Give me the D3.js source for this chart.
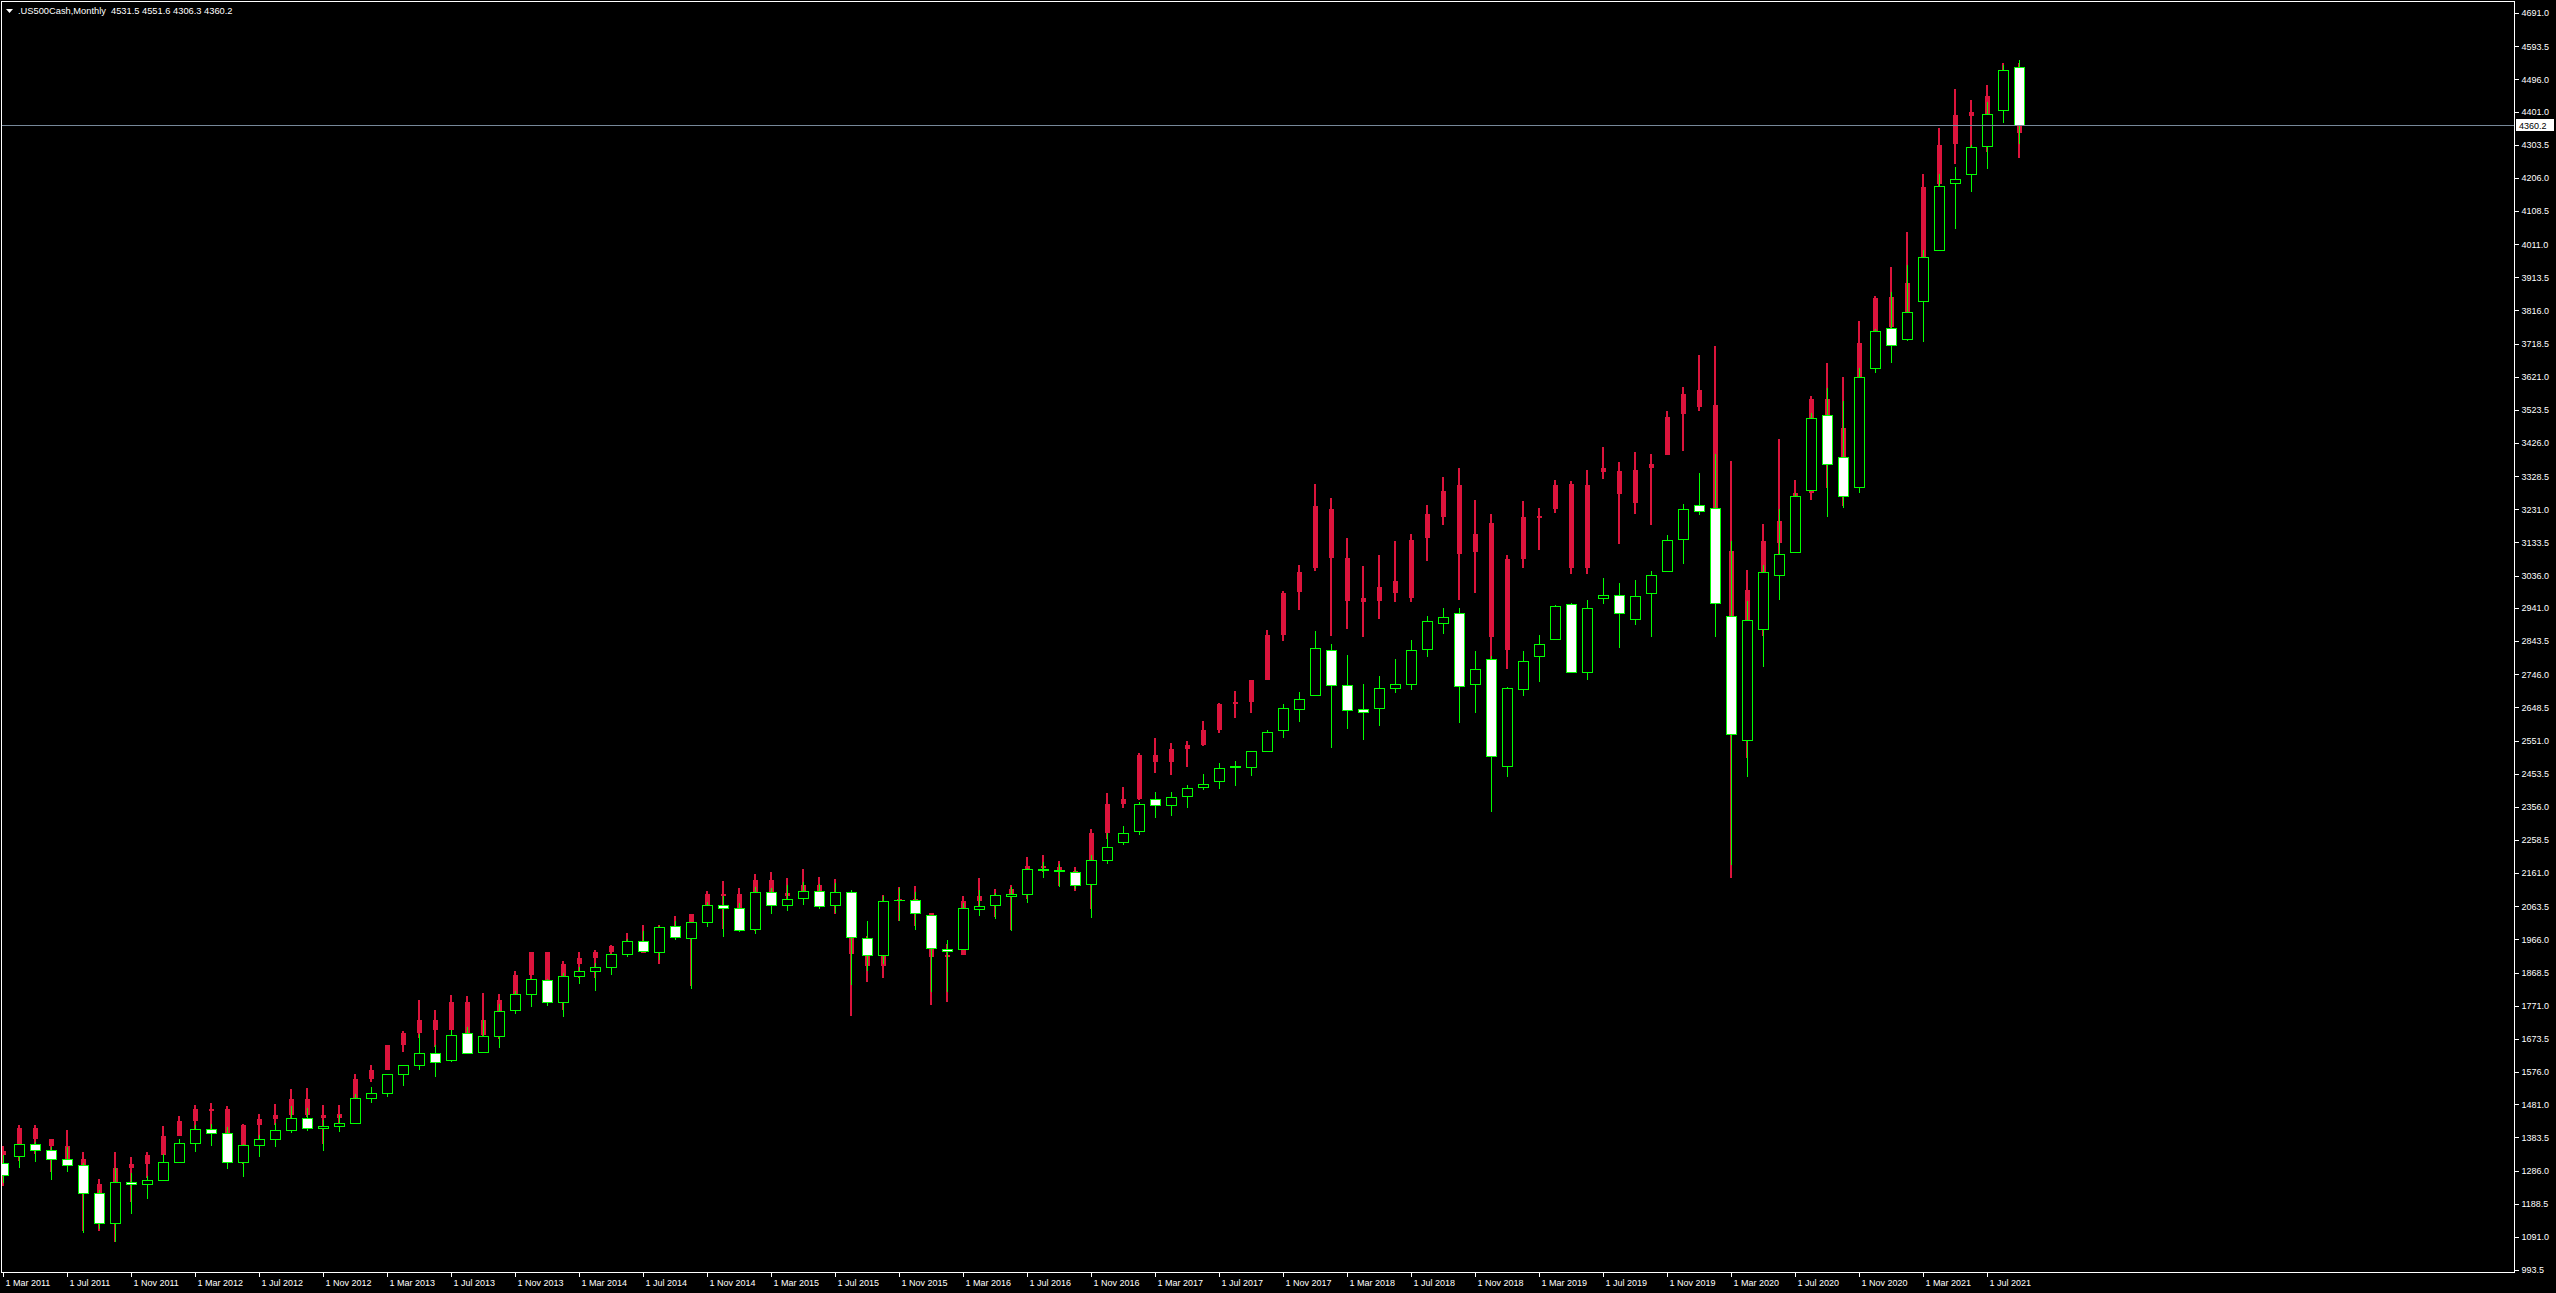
<!DOCTYPE html>
<html><head><meta charset="utf-8">
<script src="https://cdn.jsdelivr.net/npm/d3@7"></script>
<style>html,body{margin:0;padding:0;background:#000;overflow:hidden}</style>
</head><body><svg id="c" width="2556" height="1293"></svg>
<script>
// ---------- DATA ----------
const symbolTitle = ".US500Cash,Monthly";
const categories = d3.timeMonth.range(new Date(2011, 2, 1), new Date(2021, 9, 1)).map(d3.timeFormat("1 %b %Y"));

// main series (.US500Cash monthly OHLC), Mar 2011 .. Sep 2021
const spxOpen = [
 1307,1329.5,1365.2,1345.2,1320.6,1302,1219.1,1131.2,1251.0,1246.9,
 1258.9,1312.5,1365.9,1408.5,1397.9,1309.9,1362.3,1379.3,1406.5,1440.9,1412.2,1416.2,
 1426.2,1498.1,1514.7,1569.2,1597.6,1631.7,1609.8,1689.4,1635.9,1682.4,1758.7,1806.6,
 1845.9,1782.7,1857.7,1873.9,1884.4,1923.9,1962.3,1929.8,2004.1,1971.4,2018.2,2065.8,
 2058.9,1996.7,2105.2,2067.6,2087.4,2108.6,2067.0,2104.5,1970.1,1919.7,2080.8,2082.9,
 2038.2,1937.1,1937.1,2056.6,2067.2,2093.9,2099.3,2173.2,2171.3,2164.3,2128.7,2200.2,
 2251.6,2285.6,2380.1,2362.3,2388.5,2415.6,2431.4,2477.1,2474.4,2521.2,2583.2,2645.1,
 2683.7,2816.5,2715.2,2643.0,2646.0,2705.0,2716.0,2821.2,2897.0,2926.3,2717.6,2790.5,
 2477.0,2702.3,2798.2,2848.6,2952.3,2751.5,2971.4,2980.3,2909.0,2983.7,3050.7,3143.9,
 3244.7,3235.7,2917.0,2552.0,2880.0,3038.8,3105.9,3288.3,3507.4,3385.9,3296.2,3645.9,
 3764.6,3731.2,3842.5,3992.8,4192.0,4216.5,4300.7,4406.9,4531.5];
const spxHigh = [
 1332.3,1364.6,1370.6,1356.5,1356.5,1307.4,1229.3,1292.7,1277.6,1269.4,
 1333.5,1378.0,1419.2,1422.4,1415.3,1363.5,1392.0,1426.7,1474.5,1470.9,1434.3,1448.0,
 1509.9,1530.9,1570.3,1597.6,1687.2,1654.2,1698.8,1709.7,1729.9,1775.2,1813.6,1849.4,
 1850.8,1867.9,1883.9,1897.3,1924.0,1968.2,1991.4,2005.0,2019.3,2018.2,2075.8,2093.6,
 2072.4,2119.6,2117.5,2125.9,2134.7,2129.9,2132.8,2112.7,2020.9,2094.3,2116.5,2104.3,
 2038.2,1963.0,2072.2,2111.1,2103.5,2120.6,2177.1,2193.8,2187.9,2169.6,2214.1,2277.5,
 2301.0,2371.5,2401.0,2398.2,2418.7,2453.8,2484.0,2490.9,2519.4,2583.0,2657.7,2695.0,
 2872.9,2836.0,2801.9,2717.5,2742.2,2791.5,2848.0,2916.5,2940.9,2939.9,2815.2,2800.2,
 2709.0,2813.5,2860.3,2949.5,2954.1,2964.2,3028.0,3013.6,3022.0,3050.1,3154.3,3247.9,
 3337.8,3393.5,3136.7,2960.0,3068.7,3233.1,3280.0,3514.8,3588.1,3549.9,3646.0,3760.2,
 3870.9,3950.4,3994.4,4218.8,4238.0,4302.4,4430.0,4537.4,4551.6];
const spxLow = [
 1249.1,1294.7,1311.8,1258.1,1282.9,1101.5,1114.2,1074.8,1158.7,1202.4,
 1258.9,1312.5,1340.0,1357.4,1291.0,1266.7,1325.4,1354.7,1396.6,1403.3,1343.4,1398.1,
 1426.2,1485.0,1501.5,1536.0,1581.3,1560.3,1604.6,1627.5,1633.4,1646.5,1746.2,1767.9,
 1770.5,1737.9,1834.4,1814.4,1859.8,1915.0,1930.7,1904.8,1964.0,1820.7,2001.0,1972.6,
 1988.1,1980.9,2039.7,2048.4,2067.9,2056.3,2044.0,1831.0,1871.9,1893.7,2019.4,1993.3,
 1812.3,1810.1,1937.1,2033.8,2025.9,1991.7,2074.0,2147.6,2119.1,2114.7,2030.0,2187.4,
 2245.1,2271.7,2322.3,2329.0,2352.7,2405.7,2407.7,2417.4,2446.6,2520.4,2557.5,2605.5,
 2682.4,2529.0,2585.9,2553.8,2594.6,2692.0,2699.0,2796.3,2864.1,2603.5,2631.1,2340.0,
 2444.0,2681.8,2722.3,2848.6,2750.5,2728.8,2952.2,2822.1,2891.9,2855.9,3050.7,3070.3,
 3214.6,2855.8,2185.0,2445.0,2766.6,2965.7,3101.2,3284.5,3209.5,3233.9,3279.7,3633.4,
 3662.7,3725.6,3723.3,3992.8,4056.9,4164.4,4233.1,4367.7,4306.3];
const spxClose = [
 1273,1363.6,1345.2,1320.6,1302,1219.0,1131.4,1253.3,1247.0,1257.6,
 1312.4,1365.7,1408.5,1397.9,1310.3,1362.2,1379.3,1406.6,1440.7,1412.2,1416.2,1426.2,
 1498.1,1514.7,1569.2,1597.6,1630.7,1606.3,1685.7,1633.0,1681.6,1756.5,1805.8,1848.4,
 1782.6,1859.5,1872.3,1883.9,1923.6,1960.2,1930.7,2003.4,1972.3,2018.1,2067.6,2058.9,
 1995.0,2104.5,2067.9,2085.5,2107.4,2063.1,2104.0,1972.2,1920.0,2079.4,2080.4,2043.9,
 1940.2,1932.2,2059.7,2065.3,2096.9,2098.9,2173.6,2170.9,2168.3,2126.2,2198.8,2238.8,
 2278.9,2363.6,2362.7,2384.2,2411.8,2423.4,2470.3,2471.7,2519.4,2575.3,2647.6,2673.6,
 2823.8,2713.8,2640.9,2634.0,2705.3,2716.0,2816.3,2901.5,2914.0,2711.7,2760.2,2506.9,
 2704.1,2784.5,2834.4,2945.8,2752.1,2941.8,2980.4,2926.5,2976.7,3037.6,3141.0,3230.8,
 3225.5,2954.2,2569.0,2906.0,3048.0,3100.3,3271.1,3500.3,3363.0,3270.0,3621.6,3756.1,
 3714.2,3811.2,3972.9,4181.2,4204.1,4297.5,4395.3,4522.7,4360.2];

// overlay series (red candles, US30 monthly OHLC drawn on its own scale)
const dowOpen = [
 12226,12321,12810,12570,12415,12144,11614,10913,11955,12046,
 12218,12633,12952,13212,13214,12393,12880,13009,13091,13437,13096,13026,
 13104,13861,14054,14579,14840,15116,14910,15500,14810,15130,15546,16086,
 16577,15699,16322,16458,16581,16717,16827,16563,17098,17043,17391,17828,
 17823,17165,18133,17776,17841,18011,17620,17690,16528,16285,17664,17720,
 17425,16466,16517,17685,17774,17787,17930,18432,18401,18308,18142,19124,
 19763,19864,20812,20663,20941,21009,21350,21891,21948,22423,23377,24305,
 24809,26083,25025,24076,24117,24542,24161,25462,25917,26598,25151,25779,
 23058,24999,25916,26075,26609,24819,26964,26897,26198,26963,27230,28109,
 28639,28319,25180,21227,23985,25342,25880,26419,28439,27816,26691,29696,
 30627,30055,31065,33055,33904,34584,34507,34950,35361];
const dowHigh = [
 12419,12876,12876,12570,12754,12285,11717,12284,12188,12288,
 12842,13055,13290,13338,13280,12899,13103,13330,13653,13662,13290,13311,
 13969,14150,14585,14888,15542,15340,15658,15634,15710,15680,16175,16588,
 16588,16398,16588,16631,16736,16978,17152,17153,17350,17395,17894,18103,
 17951,18244,18289,18175,18351,18199,18138,17785,16933,17799,17978,17997,
 17425,16752,17791,18168,17934,18016,18622,18668,18534,18400,19225,19988,
 20126,20851,21169,21071,21112,21535,21929,22179,22420,23485,24328,24876,
 26617,26307,25449,24858,25086,25403,25552,26168,26770,26952,26278,25980,
 25087,26242,26110,26696,26689,26908,27398,27091,27306,27248,28174,28701,
 29374,29568,27102,24765,25759,27581,26711,28502,29199,28903,30116,30637,
 31272,32009,33260,34257,35091,34849,35171,35631,35631];
const dowLow = [
 11555,12093,12241,11863,12071,10604,10597,10362,11231,11735,
 12218,12628,12792,12710,12376,12035,12492,12880,13002,13034,12471,12883,
 13104,13784,14054,14434,14740,14551,14910,14761,14777,14720,15489,15703,
 15699,15341,16015,16015,16334,16675,16563,16333,16945,15855,17291,17068,
 17136,17037,17580,17698,17790,17575,17399,15200,15942,16013,17238,17139,
 15451,15503,16517,17484,17331,17063,17713,18288,17993,17884,17500,19007,
 19678,19832,20412,20379,20553,20996,21279,21600,21710,22416,23242,23922,
 24741,23360,23509,23345,23718,24077,24075,24965,25734,24122,24268,21713,
 22639,24811,25208,25996,24681,24680,26712,25339,25978,25743,27230,27325,
 28170,24681,18170,20735,23361,24843,25523,26273,26537,26144,26691,29617,
 29857,29965,30547,32875,33474,33271,33742,34690,33613];
const dowClose = [
 12320,12811,12570,12414,12143,11614,10913,11955,12046,12218,
 12633,12952,13212,13214,12393,12880,13009,13091,13437,13096,13026,13104,
 13861,14054,14579,14840,15116,14910,15500,14810,15130,15546,16086,16577,
 15699,16322,16458,16581,16717,16827,16563,17098,17043,17391,17828,17823,
 17165,18133,17776,17841,18011,17620,17690,16528,16285,17664,17720,17425,
 16466,16517,17685,17774,17787,17930,18432,18401,18308,18142,19124,19763,
 19864,20812,20663,20941,21009,21350,21891,21948,22405,23377,24272,24719,
 26149,25029,24103,24163,24416,24271,25415,25965,26458,25116,25538,23327,
 24999,25916,25929,26593,24815,26600,26864,26403,26917,27046,28051,28538,
 28256,25409,21917,24346,25383,25813,26428,28430,27782,26502,29639,30606,
 29983,30932,32982,33875,34529,34503,34935,35361,34150];
// overlay value -> chart price units
const overlayDomain = [10000, 40000];
const overlayRange = [1026, 5142];

const priceTicks = [4691.0,4593.5,4496.0,4401.0,4303.5,4206.0,4108.5,4011.0,3913.5,3816.0,3718.5,3621.0,3523.5,3426.0,3328.5,3231.0,3133.5,3036.0,2941.0,2843.5,2746.0,2648.5,2551.0,2453.5,2356.0,2258.5,2161.0,2063.5,1966.0,1868.5,1771.0,1673.5,1576.0,1481.0,1383.5,1286.0,1188.5,1091.0,993.5];
const timeTicks = ["1 Mar 2011","1 Jul 2011","1 Nov 2011","1 Mar 2012","1 Jul 2012","1 Nov 2012","1 Mar 2013","1 Jul 2013","1 Nov 2013","1 Mar 2014","1 Jul 2014","1 Nov 2014","1 Mar 2015","1 Jul 2015","1 Nov 2015","1 Mar 2016","1 Jul 2016","1 Nov 2016","1 Mar 2017","1 Jul 2017","1 Nov 2017","1 Mar 2018","1 Jul 2018","1 Nov 2018","1 Mar 2019","1 Jul 2019","1 Nov 2019","1 Mar 2020","1 Jul 2020","1 Nov 2020","1 Mar 2021","1 Jul 2021"];
const bidPrice = 4360.2;

// ---------- DRAW ----------
const W = 2556, H = 1293;
const FONT = "'Liberation Sans', Arial, sans-serif";
const GREEN = "#00ff00", RED = "#dc143c";
const svg = d3.select("#c");
svg.append("rect").attr("width", W).attr("height", H).attr("fill", "#000");

const plotL = 2, plotT = 2, plotR = 2514, plotB = 1272;
const x = d3.scalePoint().domain(categories).range([3, 2019]);
const y = d3.scaleLinear().domain([993.5, 4691]).range([1270, 13]);
const ov = d3.scaleLinear().domain(overlayDomain).range(overlayRange);

svg.append("defs").append("clipPath").attr("id", "plotclip")
  .append("rect").attr("x", plotL).attr("y", plotT).attr("width", plotR - plotL).attr("height", plotB - plotT);

const plot = svg.append("g").attr("clip-path", "url(#plotclip)").attr("shape-rendering", "crispEdges");

const rows = categories.map((c, i) => ({
  c, o: spxOpen[i], h: spxHigh[i], l: spxLow[i], cl: spxClose[i],
  ro: ov(dowOpen[i]), rh: ov(dowHigh[i]), rl: ov(dowLow[i]), rc: ov(dowClose[i])
}));

// overlay red candles (behind)
const red = plot.append("g");
rows.forEach(d => {
  const cx = Math.round(x(d.c));
  const t = Math.round(y(d.rh)), b = Math.round(y(d.rl));
  red.append("rect").attr("x", cx - 1).attr("y", t).attr("width", 2).attr("height", Math.max(1, b - t)).attr("fill", RED);
  const bt = Math.round(y(Math.max(d.ro, d.rc))), bb = Math.round(y(Math.min(d.ro, d.rc)));
  red.append("rect").attr("x", cx - 2).attr("y", bt).attr("width", 5).attr("height", Math.max(2, bb - bt)).attr("fill", RED);
});

// main candles
const main = plot.append("g");
rows.forEach(d => {
  const cx = Math.round(x(d.c));
  const t = Math.round(y(d.h)), b = Math.round(y(d.l));
  main.append("rect").attr("x", cx).attr("y", t).attr("width", 1).attr("height", Math.max(1, b - t)).attr("fill", GREEN);
  const bt = Math.round(y(Math.max(d.o, d.cl))), bb = Math.round(y(Math.min(d.o, d.cl)));
  if (bb - bt < 1) {
    main.append("rect").attr("x", cx - 5).attr("y", bt).attr("width", 11).attr("height", 1).attr("fill", GREEN);
  } else {
    main.append("rect").attr("x", cx - 4.5).attr("y", bt + 0.5).attr("width", 10).attr("height", bb - bt)
      .attr("fill", d.cl > d.o ? "#000" : "#fff").attr("stroke", GREEN).attr("stroke-width", 1);
  }
});

// bid line
const by = Math.round(y(bidPrice)) + 0.5;
svg.append("line").attr("x1", plotL).attr("x2", plotR).attr("y1", by).attr("y2", by)
  .attr("stroke", "#778899").attr("stroke-width", 1).attr("shape-rendering", "crispEdges");

// frame
svg.append("rect").attr("x", 1.5).attr("y", 1.5).attr("width", 2513).attr("height", 1271)
  .attr("fill", "none").attr("stroke", "#fff").attr("stroke-width", 1).attr("shape-rendering", "crispEdges");

// price axis
const yAxis = svg.append("g").attr("transform", `translate(${plotR + 0.5},0)`)
  .call(d3.axisRight(y).tickValues(priceTicks).tickSize(4).tickPadding(3).tickFormat(d3.format(".1f")));
yAxis.select(".domain").remove();
yAxis.selectAll("line").attr("stroke", "#fff").attr("shape-rendering", "crispEdges");
yAxis.selectAll("text").attr("fill", "#fff").style("font-family", FONT).style("font-size", "9px");

// bid label
svg.append("rect").attr("x", plotR + 2).attr("y", by - 6.5).attr("width", 38).attr("height", 12).attr("fill", "#fff");
svg.append("text").attr("x", plotR + 5).attr("y", by).attr("dy", "0.35em").attr("fill", "#000")
  .style("font-family", FONT).style("font-size", "9px").text(d3.format(".1f")(bidPrice));

// time axis
const xAxis = svg.append("g").attr("transform", `translate(0,${plotB + 0.5})`)
  .call(d3.axisBottom(x).tickValues(timeTicks).tickSize(4).tickPadding(3));
xAxis.select(".domain").remove();
xAxis.selectAll("line").attr("stroke", "#fff").attr("shape-rendering", "crispEdges");
xAxis.selectAll("text").attr("fill", "#fff").attr("text-anchor", "start").attr("x", 2)
  .style("font-family", FONT).style("font-size", "9px");

// header
svg.append("path").attr("d", "M6,9 L13,9 L9.5,13 Z").attr("fill", "#fff");
const last = rows.length - 1;
svg.append("text").attr("x", 18).attr("y", 14).attr("fill", "#fff")
  .style("font-family", FONT).style("font-size", "9.3px").attr("xml:space", "preserve")
  .text(`${symbolTitle}  ${spxOpen[last]} ${spxHigh[last]} ${spxLow[last]} ${spxClose[last]}`);
</script>
</body></html>
